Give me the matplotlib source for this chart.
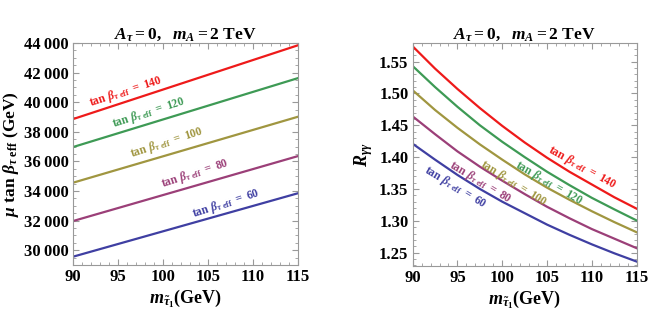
import numpy as np
import matplotlib
matplotlib.use("Agg")
import matplotlib.pyplot as plt
from matplotlib.ticker import MultipleLocator, FuncFormatter

plt.rcParams['font.family'] = ['Liberation Serif', 'DejaVu Serif']
plt.rcParams['font.weight'] = 'bold'
plt.rcParams['mathtext.fontset'] = 'custom'
plt.rcParams['mathtext.rm'] = 'Liberation Serif:bold'
plt.rcParams['mathtext.it'] = 'Liberation Serif:italic:bold'
plt.rcParams['mathtext.bf'] = 'Liberation Serif:bold'

# tan beta_tau,eff values of the curves
tanb = [140, 120, 100, 80, 60]
colors = ['#EE1A1A', '#3E9A55', '#A09640', '#9B3F78', '#3F3FA2']

# left panel: mu tan beta (GeV), straight lines between the ends
m_left = [90, 115]
mutanb = {
    140: [38860, 43850],
    120: [36970, 41630],
    100: [34560, 39020],
    80: [31970, 36360],
    60: [29560, 33850],
}

# right panel: R_gamma gamma, read every 2.5 GeV
m_right = [90, 92.5, 95, 97.5, 100, 102.5, 105, 107.5, 110, 112.5, 115]
rgg = {
    140: [1.574, 1.539, 1.507, 1.477, 1.449, 1.423, 1.399, 1.377, 1.357, 1.337, 1.319],
    120: [1.543, 1.510, 1.479, 1.450, 1.424, 1.400, 1.377, 1.356, 1.336, 1.318, 1.3005],
    100: [1.505, 1.474, 1.446, 1.420, 1.396, 1.373, 1.352, 1.333, 1.315, 1.298, 1.282],
    80: [1.464, 1.436, 1.409, 1.385, 1.363, 1.342, 1.322, 1.304, 1.287, 1.272, 1.257],
    60: [1.421, 1.396, 1.372, 1.350, 1.330, 1.312, 1.294, 1.278, 1.263, 1.249, 1.236],
}

# label placement (x, y, angle)
lab_left = {140: (95.9, 40710, 18), 120: (98.4, 39290, 18), 100: (100.4, 37265, 18),
            80: (103.6, 35150, 18), 60: (107.0, 33170, 18)}
lab_right = {140: (108.9, 1.383, -29), 120: (105.2, 1.359, -30), 100: (101.3, 1.359, -32),
             80: (97.5, 1.361, -31), 60: (94.75, 1.353, -31)}

fig = plt.figure(figsize=(6.56, 3.18), dpi=100)
ax1 = fig.add_axes([0.1113, 0.1667, 0.343, 0.698])
ax2 = fig.add_axes([0.629, 0.1635, 0.3415, 0.701])

title = r'$A_\tau = 0,\ \ m_A = 2\ \mathrm{TeV}$'
xlab = r'$m_{\tilde{\tau}_1}\mathrm{(GeV)}$'


def label(t):
    return r'$\mathrm{tan}\ \beta_{\tau\ \mathrm{eff}}\ \mathrm{=\ %d}$' % t


for t, c in zip(tanb, colors):
    ax1.plot(m_left, mutanb[t], color=c, lw=1.6)
    x, y, a = lab_left[t]
    ax1.text(x, y, label(t), color=c, fontsize=8.5, rotation=a,
             ha='center', va='center', rotation_mode='anchor')
    ax2.plot(m_right, rgg[t], color=c, lw=1.6)
    x, y, a = lab_right[t]
    ax2.text(x, y, label(t), color=c, fontsize=8.5, rotation=a,
             ha='center', va='center', rotation_mode='anchor')

ax1.set_xlim(90, 115)
ax1.set_ylim(29000, 44000)
ax1.yaxis.set_major_locator(MultipleLocator(2000))
ax1.yaxis.set_minor_locator(MultipleLocator(500))
ax1.yaxis.set_major_formatter(FuncFormatter(lambda v, p: ('%d' % v)[:-3] + '\u2009' + ('%d' % v)[-3:]))
ax1.set_ylabel(r'$\mu\ \mathrm{tan}\ \beta_{\tau\ \mathrm{eff}}\ \mathrm{(GeV)}$', fontsize=12.5, labelpad=2)

ax2.set_xlim(90, 115)
ax2.set_ylim(1.229, 1.579)
ax2.yaxis.set_major_locator(MultipleLocator(0.05))
ax2.yaxis.set_minor_locator(MultipleLocator(0.01))
ax2.yaxis.set_major_formatter(FuncFormatter(lambda v, p: '%.2f' % v))
ax2.set_ylabel(r'$R_{\gamma\gamma}$', fontsize=13, labelpad=3)

for ax in (ax1, ax2):
    ax.xaxis.set_major_locator(MultipleLocator(5))
    ax.xaxis.set_minor_locator(MultipleLocator(1))
    ax.set_title(title, fontsize=12.5, pad=3)
    ax.set_xlabel(xlab, fontsize=13, labelpad=2)
    ax.tick_params(which='both', direction='in', top=True, right=True,
                   color='#999999', labelsize=12, pad=3)
    ax.tick_params(which='major', length=4)
    ax.tick_params(which='minor', length=2)
    for s in ax.spines.values():
        s.set_color('#999999')
        s.set_linewidth(0.8)

fig.savefig('out.png', dpi=100)
